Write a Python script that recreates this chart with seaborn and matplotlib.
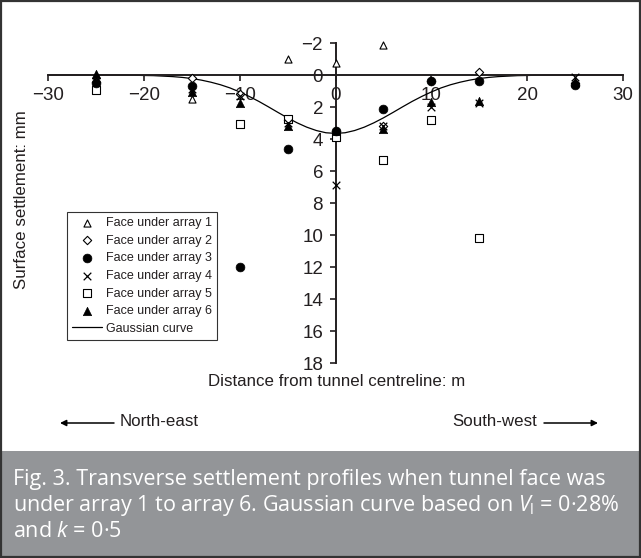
import numpy as np
import pandas as pd
import matplotlib
matplotlib.use("Agg")
import matplotlib.pyplot as plt
import seaborn as sns
from matplotlib.patches import Rectangle

nan = np.nan
# ---- data (distance m, settlement mm; positive = settlement) ----
x_pos = [-25, -15, -10, -5, 0, 5, 10, 15, 25]
array1 = [0.0, 1.5, nan, -1.0, -0.75, -1.85, nan, nan, nan]
array2 = [0.45, 0.2, 1.2, 2.8, 3.5, 3.2, 0.4, -0.2, 0.5]
array3 = [0.5, 0.7, 12.0, 4.6, 3.5, 2.1, 0.4, 0.4, 0.65]
array4 = [0.4, 0.9, 1.3, 3.0, 6.9, 3.2, 2.0, 1.75, 0.1]
array5 = [0.95, nan, 3.05, 2.75, 3.9, 5.3, 2.8, 10.2, nan]
array6 = [-0.05, 1.05, 1.75, 3.2, 3.5, 3.4, 1.7, 1.6, 0.45]

series_labels = ["Face under array 1", "Face under array 2", "Face under array 3",
                 "Face under array 4", "Face under array 5", "Face under array 6"]

gauss_x = list(range(-30, 31))
gauss_half = [3.65, 3.61, 3.47, 3.26, 2.99, 2.68, 2.34, 1.99, 1.65, 1.34, 1.06,
              0.81, 0.61, 0.45, 0.32, 0.22, 0.15, 0.10, 0.07, 0.04, 0.03,
              0.015, 0.01, 0.005, 0.003, 0.0, 0.0, 0.0, 0.0, 0.0, 0.0]
gauss_y = gauss_half[::-1] + gauss_half[1:]

x_ticks = [-30, -20, -10, 0, 10, 20, 30]
y_ticks = [-2, 0, 2, 4, 6, 8, 10, 12, 14, 16, 18]

caption = ["Fig. 3. Transverse settlement profiles when tunnel face was",
           r"under array 1 to array 6. Gaussian curve based on $V_\mathrm{l}$ = 0·28%",
           r"and $k$ = 0·5"]

# ---- style ----
sns.set_style("white")
plt.rcParams["font.family"] = ["Liberation Sans", "DejaVu Sans"]
plt.rcParams["mathtext.fontset"] = "custom"
plt.rcParams["mathtext.rm"] = "Open Sans"
plt.rcParams["mathtext.it"] = "Open Sans:italic"
ink = "#231f20"

W, H = 641, 558
fig = plt.figure(figsize=(W / 100, H / 100), dpi=100)
fig.patch.set_facecolor("white")

ax = fig.add_axes([48 / W, 1 - 363 / H, 575 / W, 320 / H])
ax.patch.set_alpha(0)

df = pd.DataFrame({"x": x_pos, "a1": array1, "a2": array2, "a3": array3,
                   "a4": array4, "a5": array5, "a6": array6})

styles = [
    dict(marker="^", s=26, facecolor="white", edgecolor="black", linewidth=0.8, zorder=3),
    dict(marker="D", s=18, facecolor="white", edgecolor="black", linewidth=0.8, zorder=3),
    dict(marker="o", s=40, facecolor="black", edgecolor="black", linewidth=0.5, zorder=5),
    dict(marker="x", s=30, linewidths=0.9, zorder=4),
    dict(marker="s", s=30, facecolor="white", edgecolor="black", linewidth=0.8, zorder=3),
    dict(marker="^", s=36, facecolor="black", edgecolor="black", linewidth=0.5, zorder=5),
]
for col, lab, st in zip(["a1", "a2", "a3", "a4", "a5", "a6"], series_labels, styles):
    sub = df[["x", col]].dropna()
    sns.scatterplot(x=sub["x"], y=sub[col], ax=ax, color="black", label=lab,
                    clip_on=False, **st)

sns.lineplot(x=gauss_x, y=gauss_y, ax=ax, color="black", linewidth=0.9,
             label="Gaussian curve", zorder=2, sort=False)

ax.set_xlim(-30, 30)
ax.set_ylim(18, -2)
ax.set_xticks(x_ticks)
ax.set_yticks(y_ticks)
ax.set_xlabel("")
ax.set_ylabel("")
for s in ["top", "right"]:
    ax.spines[s].set_visible(False)
ax.spines["left"].set_position(("data", 0))
ax.spines["bottom"].set_position(("data", 0))
for s in ["left", "bottom"]:
    ax.spines[s].set_color(ink)
    ax.spines[s].set_linewidth(1.4)
ax.tick_params(axis="x", direction="out", length=4, width=1.2, pad=5,
               labelsize=13.5, colors=ink, bottom=True)
ax.tick_params(axis="y", direction="out", length=4, width=1.2, pad=5,
               labelsize=13.5, colors=ink, left=True)

handles, labels = ax.get_legend_handles_labels()
leg = ax.legend(handles, labels, loc="upper left",
                bbox_to_anchor=(67 / W, 1 - 212 / H), bbox_transform=fig.transFigure,
                borderaxespad=0, frameon=True, fancybox=False, fontsize=9,
                labelspacing=0.45, handlelength=2.4, handletextpad=0.35,
                borderpad=0.4, edgecolor="black")
leg.get_frame().set_linewidth(0.8)
for t in leg.get_texts():
    t.set_color(ink)

fig.text(22 / W, 1 - 200 / H, "Surface settlement: mm", rotation=90,
         ha="center", va="center", fontsize=12.2, color=ink)
fig.text(337 / W, 1 - 381 / H, "Distance from tunnel centreline: m",
         ha="center", va="center", fontsize=12.2, color=ink)

# direction arrows
fig.text(120 / W, 1 - 422 / H, "North-east", ha="left", va="center", fontsize=12.2, color=ink)
fig.text(537 / W, 1 - 422 / H, "South-west", ha="right", va="center", fontsize=12.2, color=ink)
ax.annotate("", xy=(60 / W, 1 - 423 / H), xytext=(114 / W, 1 - 423 / H),
            xycoords="figure fraction", textcoords="figure fraction",
            arrowprops=dict(arrowstyle="-|>", color="black", lw=1.1, mutation_scale=9,
                            shrinkA=0, shrinkB=0))
ax.annotate("", xy=(598 / W, 1 - 423 / H), xytext=(544 / W, 1 - 423 / H),
            xycoords="figure fraction", textcoords="figure fraction",
            arrowprops=dict(arrowstyle="-|>", color="black", lw=1.1, mutation_scale=9,
                            shrinkA=0, shrinkB=0))

# caption box
fig.patches.append(Rectangle((0, 0), 1, (H - 451) / H, transform=fig.transFigure,
                             facecolor="#939598", edgecolor="none", zorder=0))
base = [485, 511, 537]
for line, b in zip(caption, base):
    fig.text(13 / W, 1 - b / H, line, ha="left", va="baseline", fontsize=15.5,
             color="white", family=["Open Sans", "DejaVu Sans"])

# outer border
fig.patches.append(Rectangle((0.0015, 0.002), 0.997, 0.996, transform=fig.transFigure,
                             facecolor="none", edgecolor="#333333", linewidth=1.6, zorder=10))

fig.savefig("out.png", dpi=100)
